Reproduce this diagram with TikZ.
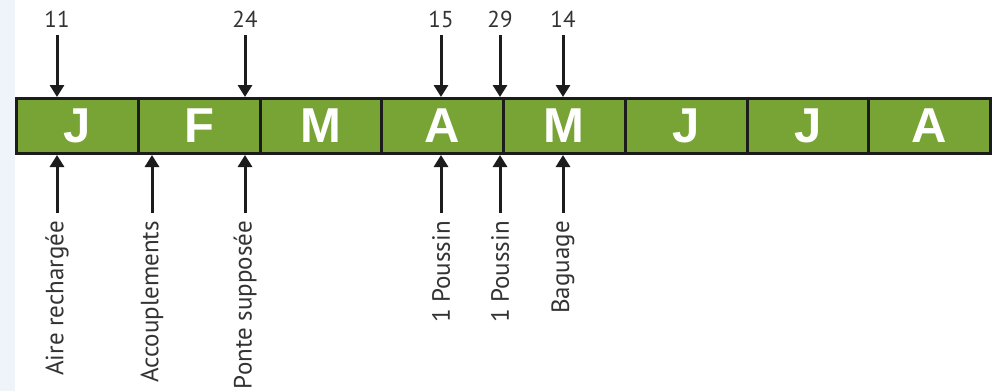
\documentclass[tikz,border=0pt]{standalone}
\usepackage{fontspec}
\setmainfont{PT Sans}
\newfontfamily\monthfont{Liberation Sans}
\usetikzlibrary{arrows.meta}
\definecolor{barGreen}{HTML}{78A436}
\definecolor{edgeDark}{HTML}{1C1C1C}
\definecolor{stripBlue}{HTML}{EEF4FA}
\begin{document}
\begin{tikzpicture}[x=1pt,y=-1pt,
  month/.style={draw=edgeDark, line width=3pt, fill=barGreen,
    minimum width=121.75pt, minimum height=55pt, inner sep=0pt,
    anchor=north west, text=white,
    font=\monthfont\bfseries\fontsize{49}{49}\selectfont},
  arr/.style={-{Triangle[width=14pt,length=12pt]}, line width=3pt, draw=edgeDark},
  numlabel/.style={inner sep=0pt, anchor=south, text=edgeDark!90,
    font=\fontsize{23}{23}\selectfont},
  evlabel/.style={inner sep=0pt, anchor=east, rotate=90, text=edgeDark!90,
    font=\fontsize{25}{25}\selectfont}]
\useasboundingbox (0,0) rectangle (992,391);
\fill[stripBlue] (0,0) rectangle (15,391);
% month cells
\node[month] (c1) at (15,97) {J};
\node[month] (c2) at (136.75,97) {F};
\node[month] (c3) at (258.5,97) {M};
\node[month] (c4) at (380.25,97) {A};
\node[month] (c5) at (502,97) {M};
\node[month] (c6) at (623.75,97) {J};
\node[month] (c7) at (745.5,97) {J};
\node[month] (c8) at (867.25,97) {A};
% top dates
\node[numlabel] (n11) at (57,28) {11};
\node[numlabel] (n24) at (245,28) {24};
\node[numlabel] (n15) at (441,28) {15};
\node[numlabel] (n29) at (500,28) {29};
\node[numlabel] (n14) at (563,28) {14};
\foreach \n/\c in {n11/c1, n24/c2, n15/c4, n29/c5, n14/c5}
  \draw[arr, shorten <=7pt] (\n.south) -- (\n.south |- \c.north);
% bottom events
\node[evlabel] (e1) at (57,221) {Aire rechargée};
\node[evlabel] (e2) at (152,221) {Accouplements};
\node[evlabel] (e3) at (245,221) {Ponte supposée};
\node[evlabel] (e4) at (441,221) {1 Poussin};
\node[evlabel] (e5) at (500,221) {1 Poussin};
\node[evlabel] (e6) at (563,221) {Baguage};
\foreach \e/\c in {e1/c1, e2/c2, e3/c2, e4/c4, e5/c5, e6/c5}
  \draw[arr, shorten <=8pt] (\e.east) -- (\e.east |- \c.south);
\end{tikzpicture}
\end{document}
